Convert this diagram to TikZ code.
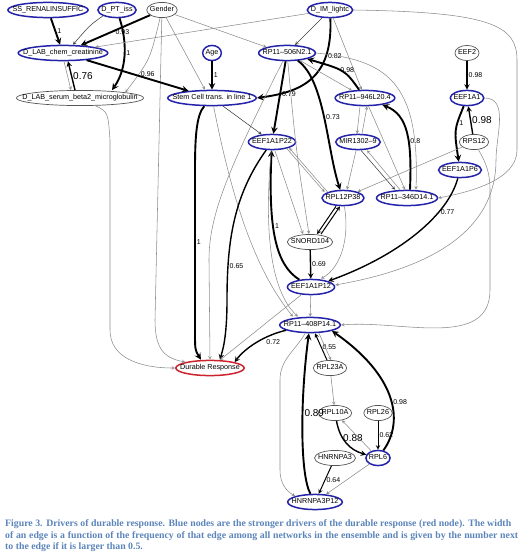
\documentclass[tikz,border=0pt]{standalone}
\usepackage{fontspec}
\setmainfont{Liberation Serif}
\setsansfont{Liberation Sans}
\usetikzlibrary{shapes.geometric}
\definecolor{nodeblue}{RGB}{35,35,170}
\definecolor{nodered}{RGB}{205,35,45}
\definecolor{nodegrey}{RGB}{85,85,85}
\definecolor{edgegrey}{RGB}{140,140,140}
\definecolor{edgedark}{RGB}{60,60,60}
\definecolor{captionblue}{RGB}{90,132,186}
\newcommand{\gname}[1]{\makebox[0.75\width]{#1}}

\begin{document}
\begin{tikzpicture}
            [x=1pt, y=1pt,
            main node/.style={ellipse, draw, line width=1.5pt, inner xsep=1.8pt, inner ysep=1.9pt,
              text height=5.3pt, text depth=1.6pt, font=\sffamily\fontsize{7.2}{8}\selectfont},
            blue node/.style={main node, draw=nodeblue},
            grey node/.style={main node, draw=nodegrey, line width=0.7pt},
            red node/.style={main node, draw=nodered},
            strong/.style={line width=1.9pt},
            medium/.style={line width=1.4pt},
            light/.style={line width=1pt},
            faint/.style={edgegrey, line width=0.55pt},
            dark/.style={edgedark, line width=0.55pt},
            weight/.style={font=\sffamily\fontsize{7}{8}\selectfont, inner sep=1pt},
            big weight/.style={font=\sffamily\fontsize{10}{11}\selectfont, inner sep=1pt},
            figure caption/.style={font=\rmfamily\bfseries\fontsize{9.8}{11.5}\selectfont,
              text=captionblue, align=left, inner sep=0pt}]
            \useasboundingbox (0,0) rectangle (520,-552);

            \node[blue node] (renal) at (48,-10) {\gname{SS\_RENALINSUFFIC}};
            \node[blue node] (ptiss) at (117,-10) {\gname{D\_PT\_iss}};
            \node[grey node] (gender) at (162,-10) {\gname{Gender}};
            \node[blue node] (lightc) at (330,-10) {\gname{D\_IM\_lightc}};
            \node[blue node] (creat) at (63,-53) {\gname{D\_LAB\_chem\_creatinine}};
            \node[blue node] (age) at (212,-53) {\gname{Age}};
            \node[blue node] (rp506) at (287,-53) {\gname{RP11--506N2.1}};
            \node[grey node] (eeftwo) at (467,-53) {\gname{EEF2}};
            \node[grey node] (serum) at (80,-98) {\gname{D\_LAB\_serum\_beta2\_microglobulin}};
            \node[blue node] (stem) at (212,-98) {\gname{Stem Cell trans. in line 1}};
            \node[blue node] (rp946) at (365,-98) {\gname{RP11--946L20.4}};
            \node[blue node] (eef1a1) at (467,-98) {\gname{EEF1A1}};
            \node[blue node] (p22) at (272,-142) {\gname{EEF1A1P22}};
            \node[blue node] (mir) at (358,-142) {\gname{MIR1302--9}};
            \node[grey node] (rps12) at (474,-142) {\gname{RPS12}};
            \node[blue node] (p6) at (460,-170) {\gname{EEF1A1P6}};
            \node[blue node] (p38) at (343,-198) {\gname{RPL12P38}};
            \node[blue node] (rp346) at (407,-198) {\gname{RP11--346D14.1}};
            \node[grey node] (snord) at (310,-242) {\gname{SNORD104}};
            \node[blue node] (p12) at (311,-287) {\gname{EEF1A1P12}};
            \node[blue node] (rp408) at (310,-325) {\gname{RP11--408P14.1}};
            \node[red node] (durable) at (210,-368) {\gname{Durable Response}};
            \node[grey node] (rpl23a) at (330,-368) {\gname{RPL23A}};
            \node[grey node] (rpl10a) at (335,-413) {\gname{RPL10A}};
            \node[grey node] (rpl26) at (378,-413) {\gname{RPL26}};
            \node[grey node] (hnrnpa3) at (335,-458) {\gname{HNRNPA3}};
            \node[blue node] (rpl6) at (378,-458) {\gname{RPL6}};
            \node[blue node] (hnp12) at (315,-502) {\gname{HNRNPA3P12}};

            \draw[-stealth, strong] (renal) -- node[weight, right] {1} (creat);
            \draw[-stealth, dark] (ptiss.south west) .. controls (90,-25) .. ([xshift=10pt]creat.north);
            \draw[-stealth, strong] (gender) -- node[weight, pos=.4, below] {0.93} (creat);
            \draw[-stealth, strong] (ptiss) .. controls (128,-45) and (126,-70) .. node[weight, right, pos=.45] {1} ([xshift=32pt]serum.north);
            \draw[-stealth, medium] ([xshift=-5pt]serum.north) -- node[big weight, right] {0.76} ([xshift=5pt]creat.south);
            \draw[-stealth, faint] ([xshift=1pt]creat.south) -- ([xshift=-9pt]serum.north);
            \draw[-stealth, faint] (gender) .. controls (150,-60) .. (serum.north east);
            \draw[-stealth, faint] (gender) -- (155,-320) .. controls (155,-350) and (165,-358) .. (durable.north west);
            \draw[-stealth, faint] (serum) .. controls (108,-112) .. (110,-140) -- (110,-330) .. controls (110,-358) and (140,-368) .. (durable.west);
            \draw[-stealth, faint] (gender) -- ([xshift=-7pt]stem.north);
            \draw[-stealth, faint] (gender) -- (rp506.north west);
            \draw[-stealth, faint] (lightc) -- (creat.north east);

            \draw[-stealth, strong] (creat) -- node[weight, above, pos=.6] {0.96} (stem);
            \draw[-stealth, strong] (age) -- node[weight, right] {1} (stem);
            \draw[-stealth, strong] (lightc) .. controls (333,-80) and (300,-92) .. node[weight, right, pos=.25] {0.82} (stem.east);
            \draw[-stealth, dark] (lightc) -- (rp506);
            \draw[-stealth, faint] (lightc) -- (rp946);
            \draw[-stealth, faint] (lightc.east) .. controls (490,-12) and (517,-25) .. (517,-60) -- (517,-150) .. controls (517,-180) and (470,-192) .. (rp346.east);

            \draw[-stealth, faint] (rp506.east) .. controls (385,-60) and (420,-80) .. ([xshift=9pt]rp346.north);
            \draw[-stealth, strong] (rp946) .. controls (345,-70) .. node[weight, above, pos=.35] {0.98} (rp506);
            \draw[-stealth, faint] (rp506) -- (rp946);
            \draw[-stealth, strong] (rp506) -- node[weight, right, pos=.45] {0.79} (p22);
            \draw[-stealth, strong] (rp506) .. controls (325,-80) and (327,-150) .. node[weight, right] {0.73} (p38);
            \draw[-stealth, faint] (rp506) .. controls (228,-170) and (209,-215) .. (209,-260) -- (durable.north);
            \draw[-stealth, faint] (rp506) .. controls (296,-150) .. ([xshift=-1pt]snord.north);

            \draw[-stealth, strong] (stem) .. controls (196,-115) and (195,-140) .. (195,-170) -- node[weight, right, pos=.45] {1} (195,-330) .. controls (195,-350) .. ([xshift=-9pt]durable.north);
            \draw[-stealth, dark] (stem) -- (p22);
            \draw[-stealth, faint] (stem) .. controls (232,-200) and (255,-270) .. ([xshift=-17pt]rp408.north);

            \draw[-stealth, medium] (p22) .. controls (234,-195) and (227,-240) .. node[weight, right, pos=.8] {0.65} (227,-300) .. controls (227,-340) and (222,-352) .. ([xshift=10pt]durable.north);
            \draw[-stealth, strong] (p12) .. controls (276,-265) and (268,-230) .. node[weight, right, pos=.6] {1} (p22);
            \draw[-stealth, faint] ([xshift=-3pt]p22.south east) -- ([xshift=-3pt]p38.north west);
            \draw[-stealth, faint] (p38.north west) -- (p22.south east);
            \draw[-stealth, faint] (p22) -- ([xshift=-7pt]snord.north);
            \draw[-stealth, faint] (p22) .. controls (264,-230) and (270,-290) .. ([xshift=-12pt]rp408.north);

            \draw[-stealth, light] ([xshift=-7pt]p38.south) -- ([xshift=7pt]snord.north);
            \draw[-stealth, light] ([xshift=11pt]snord.north) -- ([xshift=-3pt]p38.south);
            \draw[-stealth, medium] (snord) -- node[weight, right] {0.69} (p12);
            \draw[-stealth, faint] (p38) .. controls (350,-240) and (340,-268) .. ([xshift=10pt]p12.north);
            \draw[-stealth, medium] (p6) .. controls (448,-215) and (400,-255) .. node[weight, right, pos=.3] {0.77} (p12.north east);
            \draw[-stealth, faint] (eef1a1.east) to[out=0, in=90] (496,-160) to[out=-90, in=10] ([yshift=2pt]p12.east);

            \draw[-stealth, medium] (eeftwo) -- node[weight, right] {0.98} (eef1a1);
            \draw[-stealth, strong] (eef1a1) .. controls (454,-130) .. node[weight, right, pos=.3] {1} (p6);
            \draw[-stealth, medium] (rps12) -- node[big weight, right] {0.98} (eef1a1);
            \draw[-stealth, faint] (rps12) -- (p38);
            \draw[-stealth, faint] (rps12) to[out=-60, in=90] (490,-190) -- (490,-290) to[out=-90, in=5] (rp408.east);

            \draw[-stealth, strong] ([xshift=3pt]rp346.north) .. controls (412,-140) and (408,-115) .. node[weight, right, pos=.4] {0.8} (rp946);
            \draw[-stealth, dark] ([xshift=3pt]mir.south) -- ([xshift=-12pt]rp346.north);
            \draw[-stealth, faint] ([xshift=-7pt]rp346.north) -- ([xshift=9pt]mir.south);
            \draw[-stealth, faint] ([xshift=-5pt]rp946.south) -- ([xshift=-1pt]mir.north);
            \draw[-stealth, faint] ([xshift=4pt]mir.north) -- ([xshift=2pt]rp946.south);
            \draw[-stealth, faint] (rp946) -- ([xshift=-2pt]rp346.north);
            \draw[-stealth, faint] (mir) -- ([xshift=4pt]p38.north);

            \draw[-stealth, faint] (p12) -- (durable);
            \draw[-stealth, faint] (p12) -- (rp408);
            \draw[-stealth, medium] (rp408) .. controls (265,-335) and (245,-348) .. node[weight, below right, pos=.35] {0.72} (durable.north east);
            \draw[-stealth, faint] (rp408) to[out=240, in=90] (280,-380) -- (280,-470) to[out=-90, in=150] (hnp12.north west);
            \draw[-stealth, strong] (hnp12) .. controls (300,-475) and (300,-400) .. node[big weight, right, pos=.6] {0.89} (rp408);
            \draw[-stealth, light] ([xshift=-3pt]rpl23a.north) -- node[weight, right] {0.55} ([xshift=5pt]rp408.south);
            \draw[-stealth, faint] ([xshift=9pt]rp408.south) -- ([xshift=1pt]rpl23a.north);
            \draw[-stealth, strong] (rpl6) .. controls (405,-420) and (395,-375) .. node[weight, right, pos=.45] {0.98} (rp408.south east);

            \draw[-stealth, faint] (rpl23a) -- (rpl10a);
            \draw[-stealth, medium] (rpl10a) .. controls (340,-440) and (350,-450) .. node[big weight, pos=.35, right, inner sep=0pt] {0.88} (rpl6);
            \draw[-stealth, faint] (rpl6) -- (rpl10a);
            \draw[-stealth, light] (rpl26) -- node[weight, right] {0.62} (rpl6);
            \draw[-stealth, light] (hnrnpa3) -- node[weight, right] {0.64} (hnp12);
            \draw[-stealth, faint] (rpl6) -- (hnp12);

            \node[figure caption, anchor=north west] (legend) at (5,-519.5) {%
              \makebox[506pt][s]{Figure 3. Drivers of durable response. Blue nodes are the stronger drivers of the durable response (red node). The width}\\
              \makebox[513pt][s]{of an edge is a function of the frequency of that edge among all networks in the ensemble and is given by the number next}\\
              to the edge if it is larger than 0.5.};
         \end{tikzpicture}
\end{document}
